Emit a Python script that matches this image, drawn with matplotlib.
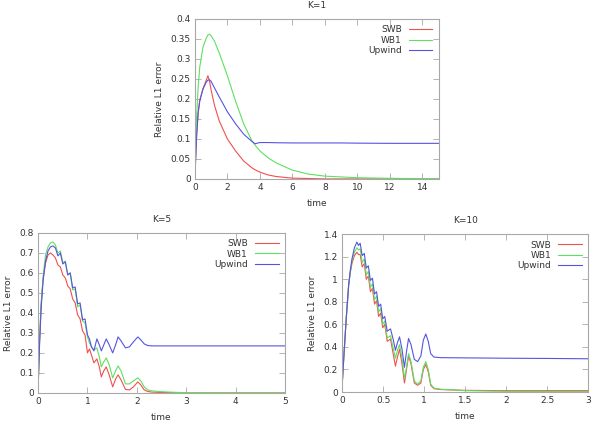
import matplotlib
matplotlib.use('Agg')
import matplotlib.pyplot as plt
from matplotlib.ticker import FuncFormatter, MultipleLocator

# K=1 panel
t1 = [0, 0.1, 0.2, 0.3, 0.5, 0.7, 0.8, 0.9, 1.0, 1.2, 1.5, 2.0, 2.5, 3.0, 3.5, 3.7,
      4.0, 4.5, 5.0, 6.0, 7.0, 8.0, 9.0, 10.0, 12.0, 15.0]
swb1 = [0.0, 0.11, 0.165, 0.197, 0.226, 0.247, 0.258, 0.245, 0.222, 0.185, 0.145, 0.1,
        0.07, 0.045, 0.028, 0.023, 0.017, 0.01, 0.006, 0.002, 0.001, 0.0, 0.0, 0.0, 0.0, 0.0]
wb11 = [0.005, 0.15, 0.23, 0.28, 0.33, 0.352, 0.36, 0.362, 0.358, 0.345, 0.315, 0.258,
        0.195, 0.138, 0.096, 0.085, 0.07, 0.053, 0.04, 0.022, 0.012, 0.007, 0.005, 0.003,
        0.0015, 0.0005]
upw1 = [0.005, 0.1, 0.165, 0.195, 0.225, 0.242, 0.247, 0.248, 0.244, 0.228, 0.205, 0.168,
        0.138, 0.112, 0.094, 0.088, 0.091, 0.091, 0.0905, 0.09, 0.09, 0.09, 0.09, 0.0895,
        0.089, 0.089]

# K=5 panel
t5 = [0, 0.03, 0.06, 0.1, 0.15, 0.2, 0.25, 0.3, 0.35, 0.4, 0.45, 0.5, 0.55, 0.6, 0.65,
      0.7, 0.75, 0.8, 0.85, 0.9, 0.95, 1.0, 1.04, 1.08, 1.13, 1.19, 1.24, 1.28, 1.33, 1.38,
      1.44, 1.51, 1.57, 1.62, 1.68, 1.77, 1.85, 1.93, 2.02, 2.08, 2.15, 2.22, 2.3, 2.5,
      2.75, 3.0, 4.0, 5.0]
swb5 = [0.03, 0.27, 0.44, 0.57, 0.65, 0.69, 0.70, 0.69, 0.675, 0.64,
        0.63, 0.59, 0.575, 0.535, 0.52, 0.47, 0.45, 0.39, 0.37, 0.31,
        0.29, 0.2, 0.22, 0.19, 0.15, 0.17, 0.13, 0.08, 0.11, 0.13,
        0.09, 0.03, 0.07, 0.09, 0.065, 0.017, 0.015, 0.03, 0.055, 0.04,
        0.015, 0.007, 0.004, 0.002, 0.001, 0.0, 0.0, 0.0]
wb15 = [0.03, 0.27, 0.44, 0.58, 0.69, 0.73, 0.75, 0.755, 0.74, 0.70,
        0.71, 0.65, 0.66, 0.59, 0.60, 0.515, 0.52, 0.43, 0.44, 0.36,
        0.35, 0.28, 0.25, 0.23, 0.215, 0.225, 0.18, 0.13, 0.155, 0.175,
        0.14, 0.075, 0.11, 0.135, 0.11, 0.045, 0.045, 0.06, 0.075, 0.06,
        0.03, 0.015, 0.01, 0.006, 0.003, 0.001, 0.0, 0.0]
upw5 = [0.03, 0.25, 0.42, 0.56, 0.66, 0.71, 0.73, 0.735, 0.725, 0.685,
        0.70, 0.645, 0.655, 0.59, 0.60, 0.525, 0.53, 0.445, 0.45, 0.365,
        0.37, 0.29, 0.27, 0.23, 0.21, 0.27, 0.24, 0.21, 0.24, 0.27,
        0.24, 0.20, 0.24, 0.28, 0.26, 0.225, 0.23, 0.255, 0.28, 0.265,
        0.245, 0.237, 0.235, 0.235, 0.235, 0.235, 0.235, 0.235]

# K=10 panel
t10 = [0, 0.02, 0.05, 0.08, 0.1, 0.12, 0.15, 0.18, 0.2, 0.22, 0.245, 0.27, 0.295, 0.32,
       0.345, 0.37, 0.395, 0.42, 0.445, 0.47, 0.495, 0.52, 0.55, 0.59, 0.625, 0.65, 0.675,
       0.70, 0.73, 0.76, 0.785, 0.81, 0.84, 0.88, 0.92, 0.96, 0.99, 1.02, 1.05, 1.08,
       1.12, 1.2, 1.5, 2.0, 2.5, 3.0]
swb10 = [0.05, 0.3, 0.65, 0.95, 1.06, 1.14, 1.21, 1.24, 1.22, 1.22,
         1.11, 1.14, 1.0, 1.03, 0.89, 0.92, 0.78, 0.81, 0.67, 0.7,
         0.57, 0.6, 0.45, 0.47, 0.33, 0.23, 0.31, 0.38, 0.25, 0.08,
         0.2, 0.32, 0.25, 0.08, 0.06, 0.08, 0.2, 0.245, 0.18, 0.06,
         0.03, 0.022, 0.015, 0.012, 0.012, 0.012]
wb110 = [0.05, 0.3, 0.65, 0.95, 1.07, 1.16, 1.24, 1.28, 1.26, 1.27,
         1.15, 1.18, 1.04, 1.07, 0.93, 0.96, 0.82, 0.85, 0.71, 0.74,
         0.6, 0.63, 0.48, 0.5, 0.38, 0.3, 0.37, 0.42, 0.3, 0.12,
         0.22, 0.34, 0.27, 0.1, 0.07, 0.1, 0.22, 0.27, 0.2, 0.07,
         0.035, 0.025, 0.012, 0.006, 0.005, 0.004]
upw10 = [0.05, 0.3, 0.65, 0.95, 1.08, 1.18, 1.28, 1.33, 1.3, 1.32,
         1.21, 1.23, 1.1, 1.12, 0.99, 1.01, 0.87, 0.89, 0.76, 0.78,
         0.65, 0.67, 0.54, 0.56, 0.46, 0.37, 0.44, 0.49, 0.38, 0.22,
         0.36, 0.475, 0.42, 0.29, 0.27, 0.32, 0.46, 0.515, 0.45, 0.34,
         0.31, 0.305, 0.303, 0.3, 0.298, 0.295]

RED = '#f05050'
GREEN = '#5fe05f'
BLUE = '#5555e0'
FRAME = '#a8a8a8'
TEXT = '#333333'

plt.rcParams['font.family'] = 'DejaVu Sans'
plt.rcParams['font.size'] = 6.5

fig = plt.figure(figsize=(5.96, 4.22), dpi=100)


def panel(rect, title, t, swb, wb1, upw, xmax, xstep, ymax, ystep):
    ax = fig.add_axes(rect)
    ax.plot(t, swb, color=RED, lw=0.8, label='SWB')
    ax.plot(t, wb1, color=GREEN, lw=0.8, label='WB1')
    ax.plot(t, upw, color=BLUE, lw=0.8, label='Upwind')
    ax.set_xlim(0, xmax)
    ax.set_ylim(0, ymax)
    ax.xaxis.set_major_locator(MultipleLocator(xstep))
    ax.yaxis.set_major_locator(MultipleLocator(ystep))
    fmt = FuncFormatter(lambda v, p: '{:g}'.format(round(v, 4)))
    ax.xaxis.set_major_formatter(fmt)
    ax.yaxis.set_major_formatter(fmt)
    for s in ax.spines.values():
        s.set_color(FRAME)
        s.set_linewidth(0.8)
    ax.tick_params(direction='in', length=4, width=0.6, color=FRAME,
                   top=True, right=True, labelsize=6.5, labelcolor=TEXT, pad=3)
    ax.set_title(title, fontsize=6.5, color=TEXT, pad=8)
    ax.set_xlabel('time', fontsize=6.5, color=TEXT, labelpad=5)
    ax.set_ylabel('Relative L1 error', fontsize=6.5, color=TEXT, labelpad=5)
    leg = ax.legend(loc='upper right', frameon=False, markerfirst=False,
                    fontsize=6.5, handlelength=2.6, labelspacing=0.15,
                    borderaxespad=0.3, handletextpad=0.8)
    for txt in leg.get_texts():
        txt.set_color(TEXT)
        txt.set_ha('right')
    return ax


panel([0.327, 0.576, 0.409, 0.379], 'K=1', t1, swb1, wb11, upw1, 15, 2, 0.4, 0.05)
panel([0.064, 0.069, 0.414, 0.379], 'K=5', t5, swb5, wb15, upw5, 5, 1, 0.8, 0.1)
panel([0.574, 0.071, 0.413, 0.374], 'K=10', t10, swb10, wb110, upw10, 3, 0.5, 1.4, 0.2)

plt.savefig('out.png', dpi=100)
